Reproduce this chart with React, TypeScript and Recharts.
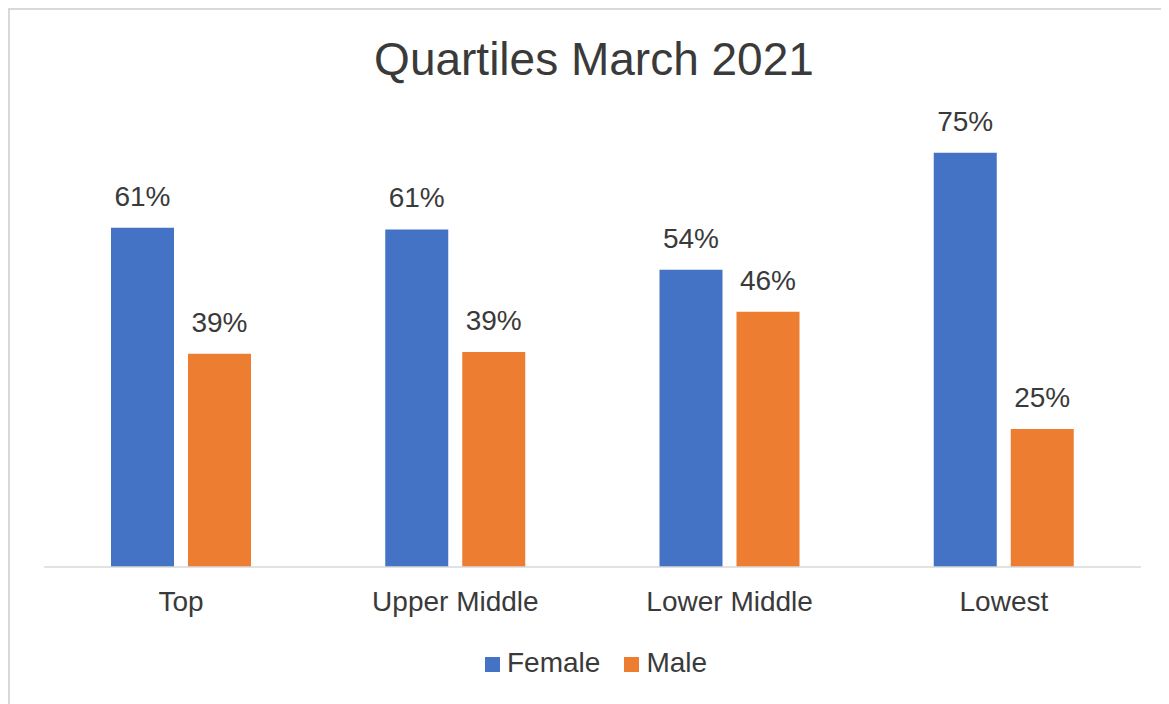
import React from "react";
import { BarChart, Bar, XAxis, YAxis, Legend, LabelList } from "recharts";

const categories = ["Top", "Upper Middle", "Lower Middle", "Lowest"];
const femaleValues = [61.4, 61.1, 53.8, 75.0];
const maleValues = [38.6, 38.9, 46.2, 25.0];
const seriesNames = ["Female", "Male"];
const seriesColors = ["#4472C4", "#ED7D31"];
const title = "Quartiles March 2021";

const data = categories.map((c, i) => ({
  name: c,
  Female: femaleValues[i],
  Male: maleValues[i],
}));

const FONT = "'Liberation Sans', Arial, sans-serif";
const TEXT = "#3a3a3a";

const fmt = (v: any) => `${Math.round(Number(v))}%`;

const LegendContent = () => (
  <div
    style={{
      display: "flex",
      alignItems: "center",
      height: 30,
      paddingLeft: 477,
      fontFamily: FONT,
      fontSize: 28,
      color: TEXT,
      lineHeight: "30px",
    }}
  >
    {seriesNames.map((n, i) => (
      <div key={n} style={{ display: "flex", alignItems: "center", marginRight: 24 }}>
        <span
          style={{
            display: "inline-block",
            width: 15,
            height: 15,
            background: seriesColors[i],
            marginRight: 7,
            marginTop: 2,
          }}
        />
        <span>{n}</span>
      </div>
    ))}
  </div>
);

export default function App() {
  return (
    <div style={{ position: "relative", width: 1161, height: 696, background: "#fff" }}>
      <div
        style={{
          position: "absolute",
          left: 0,
          top: 0,
          width: 1161,
          height: 696,
          borderTop: "2px solid #d9d9d9",
          borderLeft: "2px solid #d9d9d9",
          boxSizing: "border-box",
          pointerEvents: "none",
        }}
      />
      <div
        style={{
          position: "absolute",
          left: 0,
          top: 28,
          width: 1172,
          textAlign: "center",
          fontFamily: FONT,
          fontSize: 46,
          lineHeight: 1,
          color: TEXT,
          whiteSpace: "nowrap",
        }}
      >
        {title}
      </div>
      <BarChart
        width={1161}
        height={696}
        data={data}
        margin={{ top: 117, right: 28, left: 36, bottom: 0 }}
        barSize={63}
        barGap={14}
      >
        <XAxis
          dataKey="name"
          axisLine={{ stroke: "#d9d9d9", strokeWidth: 1.5 }}
          tickLine={false}
          height={107}
          tickMargin={18}
          interval={0}
          tick={{ fill: TEXT, fontSize: 28, fontFamily: FONT }}
        />
        <YAxis hide domain={[0, 80]} />
        <Legend
          verticalAlign="bottom"
          content={<LegendContent />}
          wrapperStyle={{ left: 0, width: 1161, bottom: 26, height: 30 }}
        />
        <Bar dataKey="Female" fill={seriesColors[0]} isAnimationActive={false}>
          <LabelList
            dataKey="Female"
            position="top"
            offset={22}
            formatter={fmt}
            style={{ fill: TEXT, fontSize: 28, fontFamily: FONT }}
          />
        </Bar>
        <Bar dataKey="Male" fill={seriesColors[1]} isAnimationActive={false}>
          <LabelList
            dataKey="Male"
            position="top"
            offset={22}
            formatter={fmt}
            style={{ fill: TEXT, fontSize: 28, fontFamily: FONT }}
          />
        </Bar>
      </BarChart>
    </div>
  );
}
